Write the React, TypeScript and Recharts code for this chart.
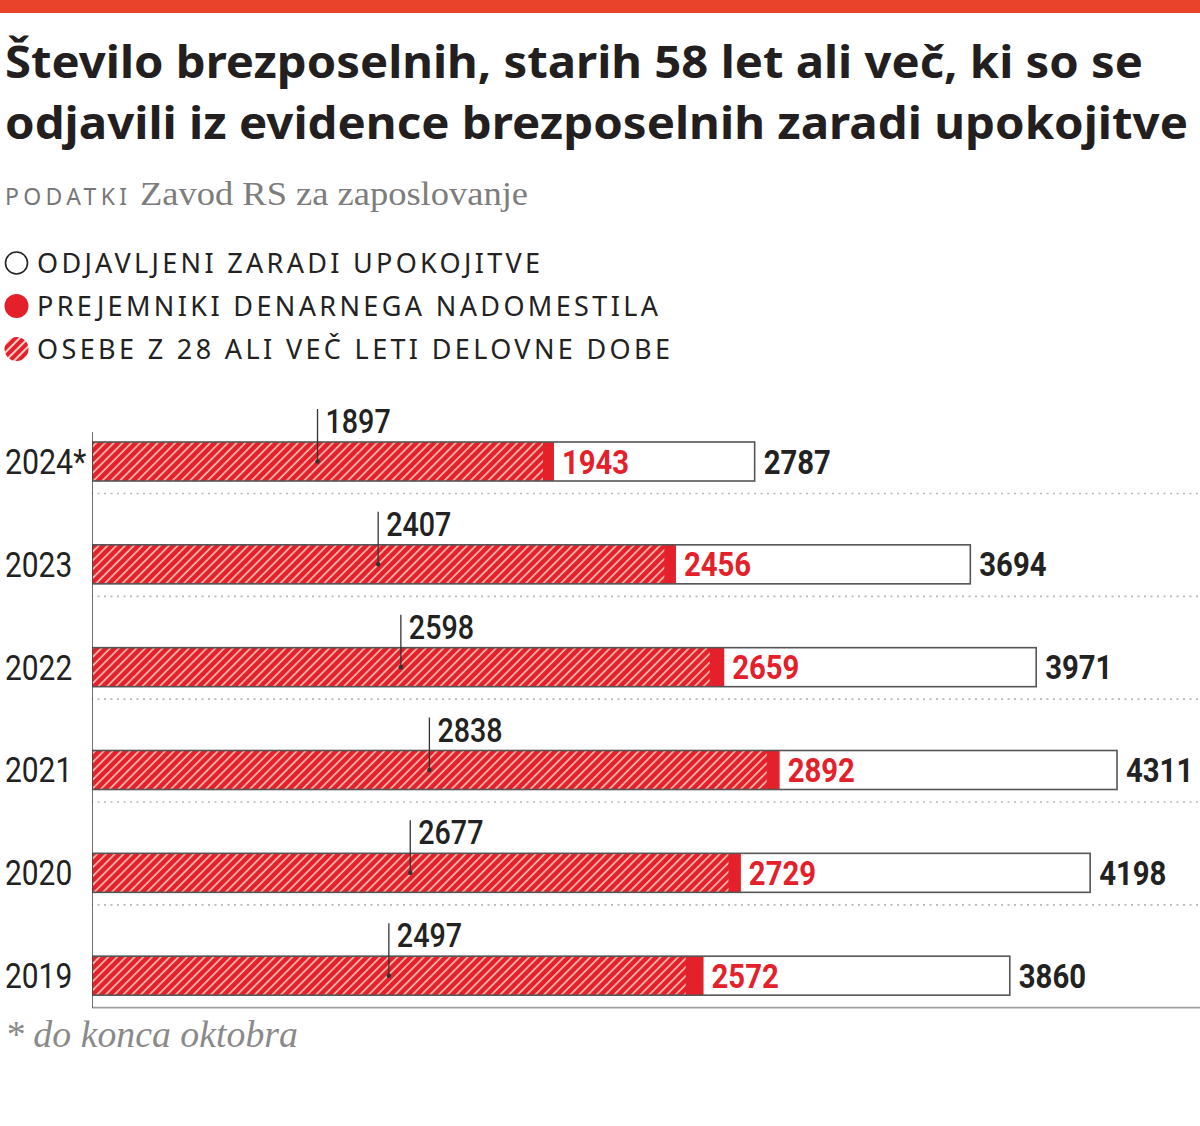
import React from 'react';
import { BarChart, Bar, XAxis, YAxis, LabelList } from 'recharts';

const years = ['2024*', '2023', '2022', '2021', '2020', '2019'];
const odjavljeni = [2787, 3694, 3971, 4311, 4198, 3860];
const prejemniki = [1943, 2456, 2659, 2892, 2729, 2572];
const osebe28 = [1897, 2407, 2598, 2838, 2677, 2497];
const legendLabels = [
  'ODJAVLJENI ZARADI UPOKOJITVE',
  'PREJEMNIKI DENARNEGA NADOMESTILA',
  'OSEBE Z 28 ALI VEČ LETI DELOVNE DOBE',
];
const titleLines = [
  'Število brezposelnih, starih 58 let ali več, ki so se',
  'odjavili iz evidence brezposelnih zaradi upokojitve',
];

const data = years.map((y, i) => ({
  year: y,
  total: odjavljeni[i],
  red: prejemniki[i],
  hatch: osebe28[i],
}));

const RED = '#e4202a';
const DARK = '#222222';
const NARROW = "Roboto, 'Open Sans', sans-serif";
const SANS = "'Noto Sans', 'Open Sans', sans-serif";
const SERIF = "'Liberation Serif', 'DejaVu Serif', serif";

// width of a condensed label: ~16.8px per digit, ~14px for the asterisk
const labelWidth = (s: string) => {
  let w = 0;
  for (const ch of s) w += ch === '*' ? 14 : 16.8;
  return w;
};

const WhiteShape = (p: any) => <rect x={p.x} y={p.y} width={p.width} height={p.height} fill="#fff" />;
const RedShape = (p: any) => <rect x={p.x} y={p.y} width={p.width} height={p.height} fill={RED} />;
const HatchShape = (p: any) => <rect x={p.x} y={p.y} width={p.width} height={p.height} fill="url(#hatchBar)" />;
const OutlineShape = (p: any) => {
  const last = p.index === years.length - 1;
  const sepY = p.y + p.height + 12.5;
  return (
    <g>
      <rect x={p.x} y={p.y} width={p.width} height={p.height} fill="none" stroke="#555" strokeWidth={1.6} />
      <line
        x1={0}
        x2={1200}
        y1={sepY}
        y2={sepY}
        stroke={last ? '#a0a0a0' : '#b8b8b8'}
        strokeWidth={1.6}
        strokeDasharray={last ? undefined : '2 4.5'}
      />
      <line x1={p.x} x2={p.x} y1={p.index === 0 ? p.y - 10 : p.y - 52} y2={sepY} stroke="#444" strokeWidth={1.5} />
    </g>
  );
};

const YearTick = (p: any) => {
  const s = String(p.payload.value);
  return (
    <text
      x={5}
      y={p.y + 12.5}
      fontFamily={NARROW}
      fontSize={35}
      fill={DARK}
      textAnchor="start"
      textLength={labelWidth(s)}
      lengthAdjust="spacingAndGlyphs"
    >
      {s}
    </text>
  );
};

const HatchLabel = (p: any) => {
  const cx = p.x + p.width / 2;
  const cy = p.y + p.height / 2;
  const s = String(p.value);
  return (
    <g>
      <line x1={cx} x2={cx} y1={p.y - 33} y2={cy} stroke="#333" strokeWidth={1.3} />
      <circle cx={cx} cy={cy} r={2.3} fill="#333" />
      <text
        x={cx + 8}
        y={p.y - 9}
        fontFamily={NARROW}
        fontWeight={500}
        fontSize={33}
        fill={DARK}
        textLength={labelWidth(s) - 2}
        lengthAdjust="spacingAndGlyphs"
      >
        {s}
      </text>
    </g>
  );
};

const RedLabel = (p: any) => {
  const s = String(p.value);
  return (
    <text
      x={p.x + p.width + 8}
      y={p.y + p.height / 2 + 12}
      fontFamily={NARROW}
      fontWeight="bold"
      fontSize={33}
      fill={RED}
      textLength={labelWidth(s)}
      lengthAdjust="spacingAndGlyphs"
    >
      {s}
    </text>
  );
};

const TotalLabel = (p: any) => {
  const s = String(p.value);
  return (
    <text
      x={p.x + p.width + 9}
      y={p.y + p.height / 2 + 12}
      fontFamily={NARROW}
      fontWeight="bold"
      fontSize={33}
      fill={DARK}
      textLength={labelWidth(s)}
      lengthAdjust="spacingAndGlyphs"
    >
      {s}
    </text>
  );
};

const legendWidths = [503, 621, 633];
const legendY = [263, 306, 349];

export default function App() {
  return (
    <div style={{ position: 'relative', width: 1200, height: 1126, background: '#fff', overflow: 'hidden' }}>
      <style>{`body{margin:0;background:#fff}`}</style>
      <svg width={1200} height={1126} style={{ position: 'absolute', left: 0, top: 0 }}>
        <defs>
          <pattern id="hatchLegend" patternUnits="userSpaceOnUse" width={6} height={6} patternTransform="rotate(45)">
            <rect width={6} height={6} fill={RED} />
            <line x1={1} y1={0} x2={1} y2={6} stroke="#fbd0c8" strokeWidth={2} />
          </pattern>
        </defs>
        <rect x={0} y={0} width={1200} height={13} fill="#e9442b" />
        {titleLines.map((t, i) => (
          <text
            key={t}
            x={5}
            y={78 + i * 61}
            fontFamily={SANS}
            fontWeight="bold"
            fontSize={45}
            fill="#231f20"
            textLength={i === 0 ? 1138 : 1183}
            lengthAdjust="spacingAndGlyphs"
          >
            {t}
          </text>
        ))}
        <text x={5} y={205} fontFamily={SANS} fontSize={23} fill="#777" textLength={122} lengthAdjust="spacing">
          PODATKI
        </text>
        <text x={140} y={205} fontFamily={SERIF} fontSize={34} fill="#7d7d7d" textLength={388} lengthAdjust="spacingAndGlyphs">
          Zavod RS za zaposlovanje
        </text>
        <circle cx={16.5} cy={legendY[0]} r={11} fill="#fff" stroke="#222" strokeWidth={1.6} />
        <circle cx={16.5} cy={legendY[1]} r={12} fill={RED} />
        <circle cx={16.5} cy={legendY[2]} r={12} fill="url(#hatchLegend)" />
        {legendLabels.map((t, i) => (
          <text
            key={t}
            x={37}
            y={legendY[i] + 10}
            fontFamily={SANS}
            fontSize={27}
            fill={DARK}
            textLength={legendWidths[i]}
            lengthAdjust="spacing"
          >
            {t}
          </text>
        ))}
        <text x={5} y={1047} fontFamily={SERIF} fontStyle="italic" fontSize={37} fill="#8a8a8a" textLength={293} lengthAdjust="spacingAndGlyphs">
          * do konca oktobra
        </text>
      </svg>
      <div style={{ position: 'absolute', left: 0, top: 380 }}>
        <BarChart
          width={1200}
          height={746}
          data={data}
          layout="vertical"
          margin={{ top: 30, right: 0, bottom: 99, left: 0 }}
          barSize={39}
          barGap={-39}
        >
          <defs>
            <pattern id="hatchBar" patternUnits="userSpaceOnUse" width={6.2} height={6.2} patternTransform="rotate(45)">
              <rect width={6.2} height={6.2} fill={RED} />
              <line x1={1} y1={0} x2={1} y2={6.2} stroke="#f9bcb3" strokeWidth={1.7} />
            </pattern>
          </defs>
          <XAxis type="number" domain={[0, 4660]} allowDataOverflow hide />
          <YAxis
            type="category"
            dataKey="year"
            width={92}
            axisLine={false}
            tickLine={false}
            tick={<YearTick />}
            interval={0}
          />
          <Bar dataKey="total" shape={<WhiteShape />} isAnimationActive={false}>
            <LabelList dataKey="total" content={<TotalLabel />} />
          </Bar>
          <Bar dataKey="red" shape={<RedShape />} isAnimationActive={false}>
            <LabelList dataKey="red" content={<RedLabel />} />
          </Bar>
          <Bar dataKey="hatch" shape={<HatchShape />} isAnimationActive={false}>
            <LabelList dataKey="hatch" content={<HatchLabel />} />
          </Bar>
          <Bar dataKey="total" shape={<OutlineShape />} isAnimationActive={false} />
        </BarChart>
      </div>
    </div>
  );
}
